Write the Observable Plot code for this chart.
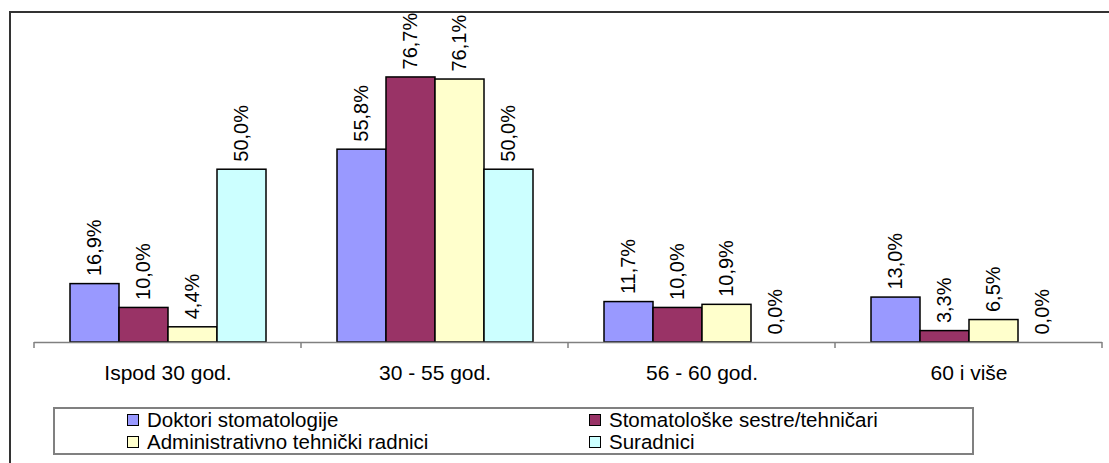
<!DOCTYPE html>
<html>
<head>
<meta charset="utf-8">
<script src="https://cdn.jsdelivr.net/npm/d3@7"></script>
<script src="https://cdn.jsdelivr.net/npm/@observablehq/plot@0.6"></script>
<style>
  body { margin: 0; background: #fff; font-family: "Liberation Sans", Arial, sans-serif; }
  #wrap { position: relative; width: 1109px; height: 463px; overflow: hidden; }
  #frame { position: absolute; left: 9px; top: 11px; width: 1200px; height: 600px;
           border-left: 2px solid #333; border-top: 2px solid #333; pointer-events: none; }
  #legend { position: absolute; left: 53px; top: 407px; width: 845px; height: 44px;
            border: 2px solid #808080; background: #fff; box-sizing: content-box;
            display: grid; grid-template-columns: 462px auto; grid-auto-rows: 22px;
            padding-left: 72px; padding-top: 0;
            font-size: 20.5px; line-height: 22px; color: #000; }
  .item { display: flex; align-items: center; white-space: nowrap; height: 22px; }
  .sw { width: 10px; height: 10px; border: 1.5px solid #000; margin-right: 8px; flex: none; }
  .lbl { display: block; height: 22px; line-height: 22px; }
</style>
</head>
<body>
<div id="wrap">
  <div id="chart"></div>
  <div id="frame"></div>
  <div id="legend"></div>
</div>
<script>
const categories = ["Ispod 30 god.", "30 - 55 god.", "56 - 60 god.", "60 i više"];
const seriesNames = ["Doktori stomatologije", "Stomatološke sestre/tehničari", "Administrativno tehnički radnici", "Suradnici"];
const doktori   = [16.9, 55.8, 11.7, 13.0];
const sestre    = [10.0, 76.7, 10.0, 3.3];
const admin     = [4.4, 76.1, 10.9, 6.5];
const suradnici = [50.0, 50.0, 0.0, 0.0];
const colors = ["#9999FF", "#993366", "#FFFFCC", "#CCFFFF"];

const seriesValues = [doktori, sestre, admin, suradnici];
const rows = [];
categories.forEach((c, i) => {
  seriesNames.forEach((s, j) => rows.push({category: c, series: s, value: seriesValues[j][i]}));
});
const fmt = v => v.toFixed(1).replace(".", ",") + "%";

const chart = Plot.plot({
  width: 1109, height: 463,
  marginLeft: 32, marginRight: 6, marginTop: 31, marginBottom: 121,
  fx: {domain: categories, padding: 0, label: null},
  x: {domain: seriesNames, paddingInner: 0, paddingOuter: 0.71, axis: null},
  y: {domain: [0, 90], axis: null},
  color: {domain: seriesNames, range: colors},
  style: {fontFamily: '"Liberation Sans", Arial, sans-serif', fontSize: "21px", color: "#000", background: "transparent", overflow: "visible"},
  marks: [
    Plot.barY(rows, {fx: "category", x: "series", y: "value", fill: "series", stroke: "#000", strokeWidth: 1.5}),
    Plot.ruleY([0], {stroke: "#808080", strokeWidth: 1.5}),
    Plot.text(rows, {fx: "category", x: "series", y: "value", text: d => fmt(d.value),
      rotate: -90, textAnchor: "start", lineAnchor: "middle", dy: -8, fontSize: 20, fill: "#000"}),
    Plot.axisFx({anchor: "bottom", tickSize: 0, tickPadding: 23, label: null, fontSize: 21, fill: "#000"})
  ]
});
document.getElementById("chart").appendChild(chart);

// category boundary ticks from the fx scale
const fx = chart.scale("fx");
const y0 = chart.scale("y").apply(0);
const bounds = categories.map(c => fx.apply(c));
bounds.push(fx.apply(categories[categories.length - 1]) + fx.bandwidth);
d3.select(chart).append("g")
  .selectAll("line").data(bounds).join("line")
  .attr("x1", d => d).attr("x2", d => d)
  .attr("y1", y0).attr("y2", y0 + 6)
  .attr("stroke", "#808080").attr("stroke-width", 1.5);

// legend
const legend = d3.select("#legend");
seriesNames.forEach((s, j) => {
  const it = legend.append("div").attr("class", "item");
  it.append("span").attr("class", "sw").style("background", colors[j]);
  it.append("span").attr("class", "lbl").text(s);
});
</script>
</body>
</html>
